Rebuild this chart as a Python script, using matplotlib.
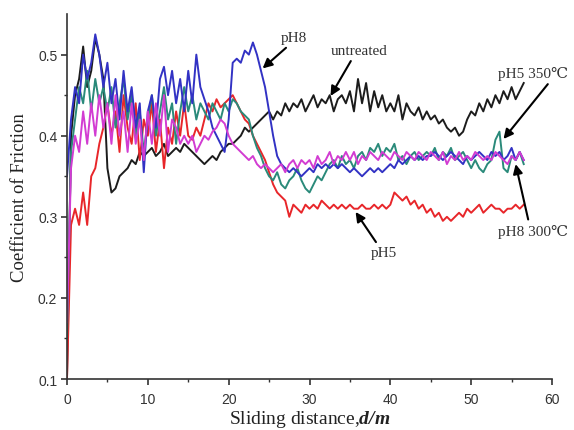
import numpy as np
import matplotlib
matplotlib.use("Agg")
import matplotlib.pyplot as plt

plt.rcParams.update({
    "font.family": ["Liberation Sans", "DejaVu Sans"],
    "mathtext.fontset": "custom",
    "mathtext.rm": "Liberation Serif",
    "mathtext.it": "Liberation Serif:italic",
    "mathtext.bf": "Liberation Serif:bold",
    "mathtext.bfit": "Liberation Serif:bold:italic",
})

SERIF = ["Liberation Serif", "DejaVu Serif"]

# sliding distance grid (m), one reading every 0.5 m
dist = np.arange(0, 56.51, 0.5)

untreated = [
    0.10, 0.40, 0.45, 0.47, 0.51, 0.46, 0.48, 0.52, 0.50, 0.47,
    0.36, 0.33, 0.335, 0.35, 0.355, 0.36, 0.37, 0.365, 0.38, 0.375,
    0.38, 0.385, 0.375, 0.38, 0.39, 0.375, 0.38, 0.385, 0.38, 0.39,
    0.385, 0.38, 0.375, 0.37, 0.365, 0.37, 0.375, 0.37, 0.38, 0.385,
    0.39, 0.39, 0.395, 0.40, 0.41, 0.405, 0.41, 0.415, 0.42, 0.425,
    0.43, 0.42, 0.43, 0.425, 0.44, 0.43, 0.44, 0.435, 0.445, 0.43,
    0.44, 0.45, 0.435, 0.445, 0.44, 0.45, 0.43, 0.445, 0.45, 0.44,
    0.455, 0.43, 0.47, 0.44, 0.465, 0.43, 0.455, 0.435, 0.45, 0.43,
    0.44, 0.43, 0.45, 0.42, 0.44, 0.43, 0.425, 0.435, 0.42, 0.43,
    0.42, 0.425, 0.415, 0.42, 0.41, 0.405, 0.41, 0.40, 0.405, 0.42,
    0.43, 0.425, 0.44, 0.43, 0.445, 0.435, 0.45, 0.44, 0.455, 0.445,
    0.46, 0.445, 0.455, 0.465,
]

ph8 = [
    0.35, 0.42, 0.46, 0.44, 0.50, 0.47, 0.49, 0.525, 0.50, 0.46,
    0.49, 0.44, 0.47, 0.42, 0.48, 0.43, 0.46, 0.41, 0.44, 0.355,
    0.43, 0.45, 0.41, 0.47, 0.485, 0.45, 0.48, 0.44, 0.47, 0.43,
    0.48, 0.44, 0.50, 0.46, 0.445, 0.43, 0.41, 0.40, 0.39, 0.38,
    0.42, 0.49, 0.495, 0.49, 0.505, 0.50, 0.515, 0.50, 0.48, 0.46,
    0.43, 0.40, 0.375, 0.365, 0.36, 0.355, 0.36, 0.355, 0.35, 0.355,
    0.36, 0.355, 0.365, 0.36, 0.365, 0.36, 0.365, 0.36, 0.365, 0.36,
    0.355, 0.36, 0.355, 0.35, 0.355, 0.36, 0.355, 0.36, 0.355, 0.36,
    0.365, 0.36, 0.37, 0.365, 0.37, 0.375, 0.37, 0.375, 0.37, 0.375,
    0.375, 0.38, 0.375, 0.37, 0.375, 0.38, 0.375, 0.37, 0.365, 0.375,
    0.37, 0.375, 0.38, 0.375, 0.37, 0.38, 0.375, 0.38, 0.37, 0.375,
    0.385, 0.37, 0.38, 0.37,
]

ph5 = [
    0.10, 0.29, 0.31, 0.29, 0.33, 0.29, 0.35, 0.36, 0.39, 0.41,
    0.44, 0.40, 0.43, 0.38, 0.45, 0.41, 0.39, 0.44, 0.37, 0.42,
    0.40, 0.44, 0.38, 0.42, 0.36, 0.41, 0.39, 0.43, 0.40, 0.44,
    0.40, 0.395, 0.41, 0.40, 0.42, 0.44, 0.43, 0.445, 0.435, 0.44,
    0.445, 0.45, 0.44, 0.43, 0.42, 0.415, 0.40, 0.39, 0.38, 0.37,
    0.355, 0.34, 0.33, 0.325, 0.32, 0.30, 0.315, 0.31, 0.305, 0.315,
    0.31, 0.315, 0.31, 0.32, 0.315, 0.31, 0.315, 0.31, 0.315, 0.31,
    0.315, 0.31, 0.31, 0.315, 0.31, 0.31, 0.315, 0.31, 0.315, 0.31,
    0.315, 0.33, 0.325, 0.32, 0.325, 0.315, 0.32, 0.31, 0.315, 0.305,
    0.31, 0.30, 0.305, 0.295, 0.30, 0.295, 0.30, 0.305, 0.30, 0.31,
    0.305, 0.31, 0.315, 0.305, 0.31, 0.315, 0.31, 0.31, 0.305, 0.31,
    0.31, 0.315, 0.31, 0.315,
]

ph5_350 = [
    0.15, 0.38, 0.42, 0.46, 0.44, 0.48, 0.43, 0.47, 0.44, 0.46,
    0.43, 0.46, 0.41, 0.44, 0.47, 0.42, 0.45, 0.40, 0.43, 0.38,
    0.42, 0.45, 0.40, 0.43, 0.46, 0.42, 0.44, 0.39, 0.43, 0.46,
    0.43, 0.45, 0.42, 0.44, 0.43, 0.42, 0.44, 0.43, 0.42, 0.44,
    0.43, 0.445, 0.44, 0.43, 0.425, 0.42, 0.40, 0.385, 0.375, 0.36,
    0.35, 0.345, 0.355, 0.34, 0.335, 0.345, 0.35, 0.36, 0.345, 0.335,
    0.33, 0.34, 0.35, 0.345, 0.355, 0.365, 0.37, 0.36, 0.375, 0.365,
    0.37, 0.36, 0.375, 0.38, 0.37, 0.385, 0.38, 0.39, 0.375, 0.385,
    0.38, 0.39, 0.37, 0.375, 0.365, 0.375, 0.38, 0.37, 0.375, 0.38,
    0.375, 0.385, 0.37, 0.38, 0.375, 0.385, 0.37, 0.375, 0.38, 0.37,
    0.36, 0.37, 0.36, 0.355, 0.365, 0.37, 0.395, 0.405, 0.36, 0.355,
    0.375, 0.37, 0.38, 0.365,
]

ph8_300 = [
    0.17, 0.36, 0.40, 0.38, 0.43, 0.39, 0.44, 0.40, 0.45, 0.41,
    0.44, 0.39, 0.45, 0.40, 0.43, 0.38, 0.44, 0.39, 0.42, 0.37,
    0.43, 0.39, 0.44, 0.40, 0.45, 0.38, 0.42, 0.41, 0.39, 0.40,
    0.39, 0.40, 0.38, 0.39, 0.40, 0.395, 0.405, 0.41, 0.42, 0.415,
    0.40, 0.39, 0.385, 0.38, 0.375, 0.37, 0.375, 0.365, 0.36, 0.365,
    0.36, 0.355, 0.36, 0.365, 0.355, 0.365, 0.37, 0.36, 0.37, 0.365,
    0.37, 0.36, 0.375, 0.365, 0.37, 0.38, 0.365, 0.375, 0.37, 0.38,
    0.37, 0.38, 0.365, 0.375, 0.37, 0.38, 0.375, 0.37, 0.38, 0.375,
    0.37, 0.38, 0.375, 0.37, 0.38, 0.375, 0.37, 0.38, 0.375, 0.37,
    0.38, 0.375, 0.37, 0.38, 0.365, 0.375, 0.37, 0.38, 0.37, 0.375,
    0.37, 0.38, 0.375, 0.37, 0.375, 0.37, 0.38, 0.375, 0.37, 0.365,
    0.375, 0.37, 0.38, 0.37,
]

# label text, text position, arrow tip (data coords)
labels = ["pH8", "untreated", "pH5 350\u2103", "pH8 300\u2103", "pH5"]
label_xy = [(28.1, 0.521), (36.1, 0.505), (57.7, 0.477), (57.6, 0.283), (39.2, 0.256)]
tip_xy = [(24.2, 0.483), (32.6, 0.449), (54.0, 0.396), (55.5, 0.365), (35.7, 0.306)]
arrow_rel = [(0.35, 0.0), (0.4, 0.0), (0.75, 0.0), (0.45, 1.0), (0.3, 1.0)]

fig = plt.figure(figsize=(5.74, 4.31), dpi=100)
ax = fig.add_axes([0.1167, 0.1183, 0.845, 0.8467])

lw = 1.4
ax.plot(dist, untreated, color="#1c1c1c", lw=lw)
ax.plot(dist, ph5, color="#e8262a", lw=lw)
ax.plot(dist, ph5_350, color="#2a8a7a", lw=lw)
ax.plot(dist, ph8, color="#3232c4", lw=lw)
ax.plot(dist, ph8_300, color="#d23cd2", lw=lw)

for txt, xy, tip, rel in zip(labels, label_xy, tip_xy, arrow_rel):
    ax.annotate(txt, xy=tip, xytext=xy, ha="center", va="center",
                fontsize=11, family=SERIF, color="#333333",
                annotation_clip=False,
                arrowprops=dict(arrowstyle="-|>", color="black", lw=1.5,
                                mutation_scale=14, relpos=rel,
                                shrinkA=1, shrinkB=0))

ax.set_xlim(0, 60)
ax.set_ylim(0.1, 0.55)
ax.set_xticks([0, 10, 20, 30, 40, 50, 60])
ax.set_xticks([5, 15, 25, 35, 45, 55], minor=True)
ax.set_yticks([0.1, 0.2, 0.3, 0.4, 0.5])
ax.set_yticks([0.15, 0.25, 0.35, 0.45], minor=True)
ax.set_yticklabels(["0.1", "0.2", "0.3", "0.4", "0.5"])

for s in ["top", "right"]:
    ax.spines[s].set_visible(False)
for s in ["left", "bottom"]:
    ax.spines[s].set_linewidth(1.2)
    ax.spines[s].set_color("#333333")

ax.tick_params(which="major", direction="out", length=4, width=1.2,
               color="#333333", labelsize=10, labelcolor="#333333")
ax.tick_params(which="minor", direction="out", length=2.5, width=1.0,
               color="#333333")
ax.tick_params(axis="x", which="major", pad=5)
ax.tick_params(axis="y", which="major", pad=3)

ax.set_xlabel(r"Sliding distance,$\mathbfit{d/m}$", fontsize=14,
              family=SERIF, color="#222222", labelpad=2)
ax.set_ylabel("Coefficient of Friction", fontsize=13.5, family=SERIF,
              color="#222222", labelpad=7)

fig.savefig("out.png", dpi=100)
